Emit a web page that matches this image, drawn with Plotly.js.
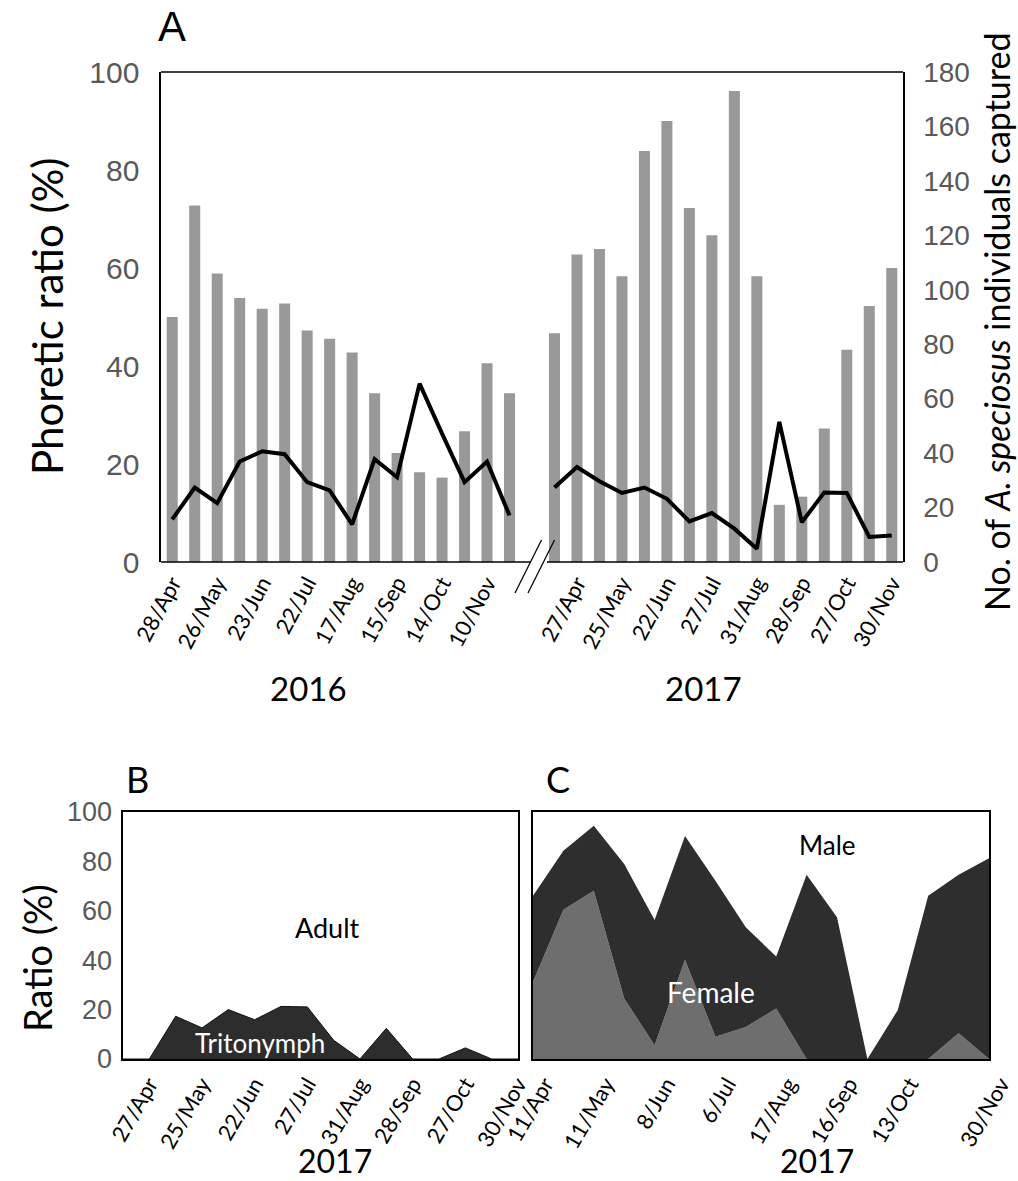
<!DOCTYPE html>
<html><head><meta charset="utf-8">
<script src="https://cdn.plot.ly/plotly-3.0.1.min.js"></script>
<style>html,body{margin:0;padding:0;background:#fff}#chart{width:1018px;height:1181px}</style>
</head><body><div id="chart"></div>
<script>
// ---------- data ----------
const ticks2016 = ['28/Apr','26/May','23/Jun','22/Jul','17/Aug','15/Sep','14/Oct','10/Nov'];
const ticks2017 = ['27/Apr','25/May','22/Jun','27/Jul','31/Aug','28/Sep','27/Oct','30/Nov'];
const captured2016 = [90,131,106,97,93,95,85,82,77,62,40,33,31,48,73,62];
const captured2017 = [84,113,115,105,151,162,130,120,173,105,21,24,49,78,94,108];
const phoretic2016 = [8.7,15.2,12.0,20.5,22.6,22.0,16.3,14.6,7.7,21.0,17.3,36.4,26.2,16.3,20.5,9.5];
const phoretic2017 = [15.2,19.4,16.5,14.1,15.2,12.9,8.3,10.0,6.8,2.7,28.6,8.1,14.2,14.1,5.1,5.4];
const ticksB = ['27/Apr','25/May','22/Jun','27/Jul','31/Aug','28/Sep','27/Oct','30/Nov'];
const tritonymph = [0,0,17.3,12.6,20.0,15.9,21.3,21.1,7.6,0,12.4,0,0,4.5,0,0];
const ticksC = ['11/Apr','11/May','8/Jun','6/Jul','17/Aug','16/Sep','13/Oct','30/Nov'];
const ticksCSample = [0,2,4,6,8,10,12,15];
const cGreyShare = [31.2,60.4,68.1,24.5,5.6,40.2,9.0,13.0,20.4,0,0,0,0,0,10.4,0];
const cDarkShare = [34.9,23.9,26.3,54.4,50.7,50.1,63.2,40.3,21.1,74.6,57.4,0,19.8,66.1,64.2,81.3];

// ---------- helpers ----------
const W = 1018, H = 1181;
const px = v => v / W, py = v => 1 - v / H;
const idx2016 = captured2016.map((_, i) => i);
const idx2017 = captured2017.map((_, i) => i + captured2016.length + 1);
const tickvalsA = ticks2016.map((_, i) => idx2016[2 * i]).concat(ticks2017.map((_, i) => idx2017[2 * i + 1]));
const ticktextA = ticks2016.concat(ticks2017);
const idxB = tritonymph.map((_, i) => i);
const tickvalsB = ticksB.map((_, i) => idxB[2 * i + 1]);
const idxC = cGreyShare.map((_, i) => i);

const GREY_NUM = '#595959';
const CAL = 'Lato, Carlito, sans-serif';
const ARI = 'Liberation Sans, Arial, sans-serif';
const DATEFONT = {family: CAL, size: 22, color: '#000'};

const traces = [
  {type: 'bar', x: idx2016, y: captured2016, xaxis: 'x', yaxis: 'y', width: 0.49, marker: {color: '#999999'}, hoverinfo: 'skip'},
  {type: 'bar', x: idx2017, y: captured2017, xaxis: 'x', yaxis: 'y', width: 0.49, marker: {color: '#999999'}, hoverinfo: 'skip'},
  {type: 'scatter', mode: 'lines', x: idx2016, y: phoretic2016, xaxis: 'x', yaxis: 'y2', line: {color: '#000', width: 4}},
  {type: 'scatter', mode: 'lines', x: idx2017, y: phoretic2017, xaxis: 'x', yaxis: 'y2', line: {color: '#000', width: 4}},
  {type: 'scatter', mode: 'lines', x: idxB, y: tritonymph, xaxis: 'x2', yaxis: 'y3', fill: 'tozeroy', fillcolor: '#2d2d2d', line: {color: '#111', width: 1}},
  {type: 'scatter', mode: 'none', x: idxC, y: cGreyShare, xaxis: 'x3', yaxis: 'y4', stackgroup: 'c', fillcolor: '#6e6e6e'},
  {type: 'scatter', mode: 'none', x: idxC, y: cDarkShare, xaxis: 'x3', yaxis: 'y4', stackgroup: 'c', fillcolor: '#2e2e2e'}
];

const baseAxis = {showgrid: false, zeroline: false, ticks: '', fixedrange: true};
const lineStyle = {color: '#000', width: 1.6};

function ann(text, x, y, size, opts) {
  return Object.assign({text: text, xref: 'paper', yref: 'paper', x: px(x), y: py(y), xanchor: 'center', yanchor: 'middle',
    showarrow: false, font: {family: CAL, size: size, color: '#000'}}, opts || {});
}

const layout = {
  width: W, height: H, margin: {l: 0, r: 0, t: 0, b: 0},
  paper_bgcolor: '#fff', plot_bgcolor: 'rgba(0,0,0,0)', showlegend: false,
  xaxis: Object.assign({}, baseAxis, {domain: [px(161), px(903)], range: [-0.5, 32.5], anchor: 'y', showline: false,
    tickmode: 'array', tickvals: tickvalsA, ticktext: ticktextA, tickangle: -62, tickfont: DATEFONT, ticklabelstandoff: 3}),
  yaxis: Object.assign({}, baseAxis, {domain: [py(562), py(72)], range: [0, 180], dtick: 20, tick0: 0, side: 'right', anchor: 'x',
    showline: true, linecolor: '#000', linewidth: 1.6, tickfont: {family: ARI, size: 28, color: GREY_NUM}, ticklabelstandoff: 13}),
  yaxis2: Object.assign({}, baseAxis, {overlaying: 'y', side: 'left', range: [0, 100], dtick: 20, tick0: 0, anchor: 'x',
    showline: true, linecolor: '#000', linewidth: 1.6, tickfont: {family: ARI, size: 30, color: GREY_NUM}, ticklabelstandoff: 14}),
  xaxis2: Object.assign({}, baseAxis, {domain: [px(123), px(518)], range: [0, 15], anchor: 'y3', showline: true, mirror: true,
    linecolor: '#000', linewidth: 1.6, tickmode: 'array', tickvals: tickvalsB, ticktext: ticksB, tickangle: -60, tickfont: DATEFONT, ticklabelstandoff: 2}),
  yaxis3: Object.assign({}, baseAxis, {domain: [py(1059), py(812)], range: [0, 100], dtick: 20, tick0: 0, anchor: 'x2',
    showline: true, mirror: true, linecolor: '#000', linewidth: 1.6, tickfont: {family: ARI, size: 27, color: GREY_NUM}, ticklabelstandoff: 4}),
  xaxis3: Object.assign({}, baseAxis, {domain: [px(533), px(989)], range: [0, 15], anchor: 'y4', showline: true, mirror: true,
    linecolor: '#000', linewidth: 1.6, tickmode: 'array', tickvals: ticksCSample, ticktext: ticksC, tickangle: -60, tickfont: DATEFONT,
    ticklabelstandoff: 2, ticklabelshift: 12}),
  yaxis4: Object.assign({}, baseAxis, {domain: [py(1059), py(812)], range: [0, 100], anchor: 'x3', showticklabels: false,
    showline: true, mirror: true, linecolor: '#000', linewidth: 1.6}),
  shapes: [
    {type: 'line', xref: 'paper', yref: 'paper', x0: px(161), x1: px(903), y0: py(72), y1: py(72), line: lineStyle},
    {type: 'line', xref: 'paper', yref: 'paper', x0: px(161), x1: px(530), y0: py(562), y1: py(562), line: lineStyle},
    {type: 'line', xref: 'paper', yref: 'paper', x0: px(547), x1: px(903), y0: py(562), y1: py(562), line: lineStyle},
    {type: 'line', xref: 'paper', yref: 'paper', x0: px(515), x1: px(541.5), y0: py(593), y1: py(540), line: {color: '#000', width: 1.2}},
    {type: 'line', xref: 'paper', yref: 'paper', x0: px(528), x1: px(554.5), y0: py(593), y1: py(540), line: {color: '#000', width: 1.2}}
  ],
  annotations: [
    ann('A', 172, 26, 42, {font: {family: ARI, size: 42, color: '#000'}}),
    ann('Phoretic ratio (%)', 47, 316, 42, {textangle: -90}),
    ann('No. of <i>A. speciosus</i> individuals captured', 996, 322, 34, {textangle: -90}),
    ann('2016', 308, 688, 33),
    ann('2017', 703, 688, 33),
    ann('B', 137, 779, 36),
    ann('C', 558, 779, 36),
    ann('Ratio (%)', 37, 958, 38, {textangle: -90}),
    ann('Adult', 327, 927, 27),
    ann('Tritonymph', 260, 1043, 26, {font: {family: CAL, size: 26, color: '#fff'}}),
    ann('Male', 827, 845, 26),
    ann('Female', 711, 992, 28, {font: {family: CAL, size: 28, color: '#fff'}}),
    ann('2017', 335, 1160, 32),
    ann('2017', 817, 1160, 32)
  ]
};

Plotly.newPlot('chart', traces, layout, {staticPlot: true, displayModeBar: false});
</script>
</body></html>
